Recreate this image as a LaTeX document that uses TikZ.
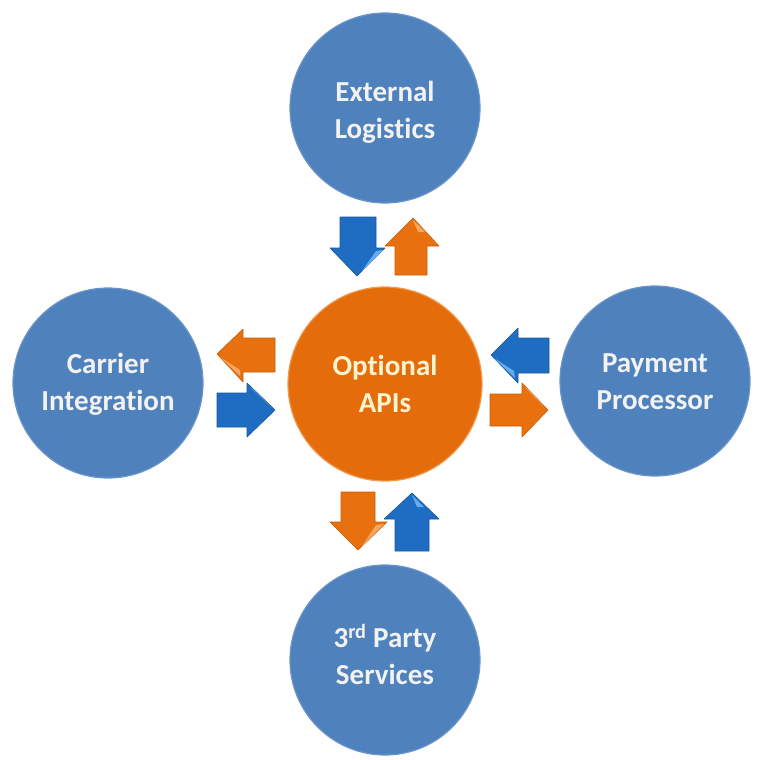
\documentclass[tikz,border=0pt]{standalone}
\usepackage{fontspec}
\setmainfont[Ligatures=NoCommon]{Carlito}
\definecolor{cblue}{HTML}{4F81BD}
\definecolor{cbluerim}{HTML}{6A95CB}
\definecolor{corange}{HTML}{E46C0A}
\definecolor{corangerim}{HTML}{F09A50}
\definecolor{ablue}{HTML}{1F6DC2}
\definecolor{abluehi}{HTML}{63AEF2}
\definecolor{aorange}{HTML}{E8700F}
\definecolor{aorangehi}{HTML}{F6A660}
\definecolor{btext}{HTML}{F2F2F2}
\definecolor{otext}{HTML}{FFF3D0}
\newcommand{\lbl}[3]{\raisebox{#1}[\height][\depth]{\begin{tabular}{@{}c@{}}#2\\[2pt]#3\end{tabular}}}
\tikzset{
  ball/.style={circle, minimum size=190pt, inner sep=0pt, fill=cblue, draw=cbluerim, line width=1.2pt,
    text=btext, font=\bfseries\fontsize{29}{35}\selectfont},
  hub/.style={ball, minimum size=194pt, fill=corange, draw=corangerim, text=otext},
  bluearrow/.style={fill=ablue, draw=ablue!80!black, line width=0.6pt, line join=round},
  orangearrow/.style={fill=aorange, draw=aorange!85!black, line width=0.6pt, line join=round},
  bluehi/.style={fill=abluehi},
  orangehi/.style={fill=aorangehi}
}
\begin{document}
\begin{tikzpicture}[x=1pt,y=-1pt]
\fill[white] (0,0) rectangle (760,760);
\useasboundingbox (0,0) rectangle (760,760);

\node[ball] (ext) at (385,108) {\lbl{-5pt}{External}{Logistics}};
\node[ball] (car) at (108,383) {\lbl{-2pt}{Carrier}{Integration}};
\node[ball] (pay) at (655,381) {\lbl{-3pt}{Payment}{Processor}};
\node[ball] (svc) at (385,660) {\lbl{1pt}{3\textsuperscript{rd} Party}{Services}};
\node[hub] (api) at (385,384) {\lbl{-3pt}{Optional}{APIs}};

% top pair
\draw[bluearrow] (340,217) -- (376,217) -- (376,248) -- (385,248) -- (357,276) -- (330,248) -- (340,248) -- cycle;
\fill[bluehi] (376,251) -- (383,250) -- (362,271) -- cycle;
\draw[orangearrow] (413,218) -- (439,246) -- (427,246) -- (427,275) -- (395,275) -- (395,246) -- (385,246) -- cycle;
\fill[orangehi] (413,220) -- (425,232) -- (418,232) -- cycle;

% left pair
\draw[orangearrow] (217,354) -- (243,329) -- (243,338) -- (275,338) -- (275,372) -- (243,372) -- (243,382) -- cycle;
\fill[orangehi] (220,357) -- (240,376) -- (240,370) -- cycle;
\draw[bluearrow] (217,393) -- (247,393) -- (247,383) -- (275,410) -- (247,437) -- (247,427) -- (217,427) -- cycle;
\fill[bluehi] (250,387) -- (272,408) -- (256,392) -- cycle;

% right pair
\draw[bluearrow] (491,355) -- (518,328) -- (518,338) -- (549,338) -- (549,373) -- (518,373) -- (518,383) -- cycle;
\fill[bluehi] (494,358) -- (515,378) -- (514,371) -- cycle;
\draw[orangearrow] (490,394) -- (522,394) -- (522,383) -- (548,410) -- (522,437) -- (522,426) -- (490,426) -- cycle;
\fill[orangehi] (525,387) -- (545,408) -- (531,392) -- cycle;

% bottom pair
\draw[orangearrow] (341,492) -- (375,492) -- (375,522) -- (387,522) -- (358,550) -- (330,522) -- (341,522) -- cycle;
\fill[orangehi] (376,525) -- (384,524) -- (362,546) -- cycle;
\draw[bluearrow] (412,493) -- (439,519) -- (429,519) -- (429,551) -- (395,551) -- (395,519) -- (384,519) -- cycle;
\fill[bluehi] (412,495) -- (424,507) -- (417,507) -- cycle;
\end{tikzpicture}
\end{document}
